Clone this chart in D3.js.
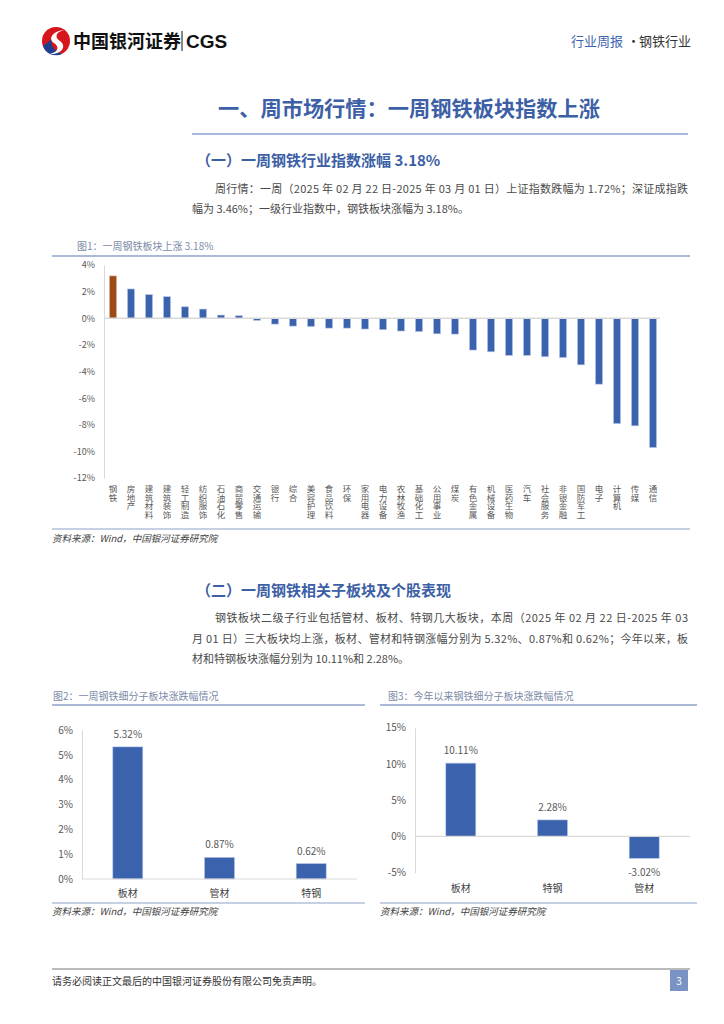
<!DOCTYPE html>
<html><head><meta charset="utf-8">
<script src="https://cdn.jsdelivr.net/npm/d3@7"></script>
<style>
body{margin:0;background:#fff;}
svg{display:block;font-family:"Noto Sans CJK SC","Noto Sans",sans-serif;}
.vlab{writing-mode:vertical-rl;text-orientation:upright;}
</style></head>
<body><svg id="page" width="724" height="1024"></svg>
<script>
// ---------- data ----------
const industryCategories = ["钢铁","房地产","建筑材料","建筑装饰","轻工制造","纺织服饰","石油石化","商贸零售","交通运输","银行","综合","美容护理","食品饮料","环保","家用电器","电力设备","农林牧渔","基础化工","公用事业","煤炭","有色金属","机械设备","医药生物","汽车","社会服务","非银金融","国防军工","电子","计算机","传媒","通信"];
const industryWeeklyChange = [3.18,2.20,1.77,1.62,0.86,0.69,0.24,0.19,-0.16,-0.44,-0.59,-0.62,-0.74,-0.74,-0.81,-0.86,-0.96,-1.00,-1.17,-1.19,-2.39,-2.52,-2.79,-2.79,-2.89,-2.95,-3.50,-4.95,-7.91,-8.08,-9.71];
const industryTicks = [4,2,0,-2,-4,-6,-8,-10,-12];

const weekSubCategories = ["板材","管材","特钢"];
const weekSubChange = [5.32,0.87,0.62];
const weekSubTicks = [0,1,2,3,4,5,6];

const ytdSubCategories = ["板材","特钢","管材"];
const ytdSubChange = [10.11,2.28,-3.02];
const ytdSubTicks = [15,10,5,0,-5];

// ---------- page ----------
const svg = d3.select("#page");
const BLUE = "#3b63ad", BROWN = "#9c4a16", GRAY = "#595959", TBLUE = "#3c5fa6", LINE = "#8ea2c9";
const serif = '"Noto Sans CJK SC",sans-serif';

// logo
const logo = svg.append("g").attr("transform","translate(56,41)");
logo.append("circle").attr("r",14).attr("fill","#d6161c");
logo.append("path").attr("d","M-13,5 A14,14 0 0 0 6,13 C-2,10 -6,4 -4,-2 Z").attr("fill","#1d3f8f");
logo.append("path").attr("d","M8,-11 C-4,-10 -8,-2 -2,2 C4,6 2,11 -6,13 C4,14 12,6 4,0 C-2,-4 0,-9 8,-11 Z").attr("fill","#fff");
svg.append("text").attr("x",73).attr("y",48).attr("font-size",18).attr("font-weight","bold").attr("fill","#111").text("中国银河证券");
svg.append("line").attr("x1",182).attr("x2",182).attr("y1",31).attr("y2",51).attr("stroke","#111").attr("stroke-width",1);
svg.append("text").attr("x",186).attr("y",48).attr("font-size",19).attr("font-weight","bold").attr("fill","#111").attr("font-family","Liberation Sans,Arial,sans-serif").text("CGS");
svg.append("text").attr("x",571).attr("y",46).attr("font-size",13).attr("fill","#3e64b0").text("行业周报");
svg.append("text").attr("x",627).attr("y",46).attr("font-size",13).attr("fill","#333").text("·");
svg.append("text").attr("x",639).attr("y",46).attr("font-size",13).attr("fill","#333").text("钢铁行业");

// section title
svg.append("text").attr("x",218).attr("y",116).attr("font-size",21).attr("font-weight","bold").attr("fill",TBLUE)
  .attr("textLength",382).attr("lengthAdjust","spacingAndGlyphs").text("一、周市场行情：一周钢铁板块指数上涨");
svg.append("line").attr("x1",192).attr("x2",688).attr("y1",134).attr("y2",134).attr("stroke","#4a73c0").attr("stroke-width",1.2);
svg.append("text").attr("x",196).attr("y",166).attr("font-size",15).attr("font-weight","bold").attr("fill",TBLUE).text("（一）一周钢铁行业指数涨幅 3.18%");

function para(x, y, txt, len){
  const t = svg.append("text").attr("x",x).attr("y",y).attr("font-size",11).attr("fill","#4a4a4a").text(txt);
  if(len) t.attr("textLength",len).attr("lengthAdjust","spacing");
}
para(215,193,"周行情：一周（2025 年 02 月 22 日-2025 年 03 月 01 日）上证指数跌幅为 1.72%；深证成指跌",473);
para(192,213,"幅为 3.46%；一级行业指数中，钢铁板块涨幅为 3.18%。");

// ---------- chart 1 ----------
svg.append("text").attr("x",77).attr("y",250).attr("font-size",10).attr("fill","#7b8aa6").text("图1：一周钢铁板块上涨 3.18%");
svg.append("line").attr("x1",52).attr("x2",690).attr("y1",256).attr("y2",256).attr("stroke",LINE).attr("stroke-width",1.5);

const x1 = d3.scaleBand().domain(industryCategories).range([104,662]).paddingInner(0.61).paddingOuter(0.305);
const y1 = d3.scaleLinear().domain([-12,4]).range([478,265]);
const ax1 = svg.append("g").attr("transform","translate(104,0)")
  .call(d3.axisLeft(y1).tickValues(industryTicks).tickSize(0).tickPadding(9).tickFormat(d=>d+"%"));
ax1.select(".domain").attr("stroke","#d9d9d9");
ax1.selectAll("text").attr("font-size",9).attr("fill",GRAY).attr("font-family",serif);
svg.append("g").selectAll("rect").data(industryWeeklyChange).join("rect")
  .attr("x",(d,i)=>x1(industryCategories[i]))
  .attr("width",x1.bandwidth())
  .attr("y",d=>y1(Math.max(0,d)))
  .attr("height",d=>Math.abs(y1(d)-y1(0)))
  .attr("fill",(d,i)=>i===0?BROWN:BLUE)
  .attr("stroke",(d,i)=>i===0?"#d9b8a5":"#b4c4e4").attr("stroke-width",0.6);
svg.append("line").attr("x1",104).attr("x2",660).attr("y1",y1(0)).attr("y2",y1(0)).attr("stroke","#d9d9d9").attr("stroke-width",1.5);
svg.append("g").selectAll("text").data(industryCategories).join("text")
  .attr("class","vlab")
  .attr("x",d=>x1(d)+x1.bandwidth()/2).attr("y",485)
  .attr("font-size",8.5).attr("fill",GRAY).text(d=>d);
svg.append("line").attr("x1",52).attr("x2",690).attr("y1",529).attr("y2",529).attr("stroke",LINE).attr("stroke-width",1.2);
svg.append("text").attr("x",52).attr("y",542).attr("font-size",9.5).attr("fill","#404040").attr("font-style","italic").text("资料来源：Wind，中国银河证券研究院");

// ---------- section 2 ----------
svg.append("text").attr("x",196).attr("y",596).attr("font-size",15).attr("font-weight","bold").attr("fill",TBLUE).text("（二）一周钢铁相关子板块及个股表现");
para(215,622,"钢铁板块二级子行业包括管材、板材、特钢几大板块，本周（2025 年 02 月 22 日-2025 年 03",473);
para(192,643,"月 01 日）三大板块均上涨，板材、管材和特钢涨幅分别为 5.32%、0.87%和 0.62%；今年以来，板",496);
para(192,663,"材和特钢板块涨幅分别为 10.11%和 2.28%。");

// ---------- chart 2 & 3 ----------
function subChart(cfg){
  svg.append("text").attr("x",cfg.tx).attr("y",700).attr("font-size",10).attr("fill","#7b8aa6").text(cfg.title);
  svg.append("line").attr("x1",cfg.l1).attr("x2",cfg.l2).attr("y1",705).attr("y2",705).attr("stroke",LINE).attr("stroke-width",1.5);
  const x = d3.scaleBand().domain(cfg.cats).range([cfg.x0,cfg.x0+275]).paddingInner(0.673).paddingOuter(0.336);
  const y = d3.scaleLinear().domain(cfg.dom).range(cfg.rng);
  const ax = svg.append("g").attr("transform",`translate(${cfg.x0},0)`)
    .call(d3.axisLeft(y).tickValues(cfg.ticks).tickSize(0).tickPadding(9).tickFormat(d=>d+"%"));
  ax.select(".domain").attr("stroke","#d9d9d9");
  ax.selectAll("text").attr("font-size",10).attr("fill",GRAY).attr("font-family",serif);
  svg.append("g").selectAll("rect").data(cfg.vals).join("rect")
    .attr("x",(d,i)=>x(cfg.cats[i])).attr("width",x.bandwidth())
    .attr("y",d=>y(Math.max(0,d))).attr("height",d=>Math.abs(y(d)-y(0)))
    .attr("fill",BLUE).attr("stroke","#b4c4e4").attr("stroke-width",0.6);
  svg.append("line").attr("x1",cfg.x0).attr("x2",cfg.x0+275).attr("y1",y(0)).attr("y2",y(0)).attr("stroke","#d9d9d9").attr("stroke-width",1.2);
  svg.append("g").selectAll("text").data(cfg.vals).join("text")
    .attr("x",(d,i)=>x(cfg.cats[i])+x.bandwidth()/2)
    .attr("y",d=>d>=0?y(d)-9:y(d)+18)
    .attr("text-anchor","middle").attr("font-size",10).attr("fill",GRAY).text(d=>d.toFixed(2)+"%");
  svg.append("g").selectAll("text").data(cfg.cats).join("text")
    .attr("x",d=>x(d)+x.bandwidth()/2).attr("y",cfg.catY)
    .attr("text-anchor","middle").attr("font-size",10).attr("fill","#404040").text(d=>d);
  svg.append("line").attr("x1",cfg.l1).attr("x2",cfg.l2).attr("y1",903).attr("y2",903).attr("stroke",LINE).attr("stroke-width",1.2);
  svg.append("text").attr("x",cfg.l1).attr("y",915).attr("font-size",9.5).attr("fill","#404040").attr("font-style","italic").text("资料来源：Wind，中国银河证券研究院");
}
subChart({title:"图2：一周钢铁细分子板块涨跌幅情况",tx:53,l1:52,l2:365,x0:82,cats:weekSubCategories,vals:weekSubChange,dom:[0,6],rng:[879,730],ticks:weekSubTicks,catY:897});
subChart({title:"图3：今年以来钢铁细分子板块涨跌幅情况",tx:388,l1:380,l2:697,x0:415,cats:ytdSubCategories,vals:ytdSubChange,dom:[-5,15],rng:[872.7,727.7],ticks:ytdSubTicks,catY:892});

// ---------- footer ----------
svg.append("line").attr("x1",52).attr("x2",690).attr("y1",969).attr("y2",969).attr("stroke","#777").attr("stroke-width",1);
svg.append("text").attr("x",52).attr("y",985).attr("font-size",10).attr("fill","#333").text("请务必阅读正文最后的中国银河证券股份有限公司免责声明。");
svg.append("rect").attr("x",670).attr("y",970).attr("width",18).attr("height",21).attr("fill","#7b93c4");
svg.append("text").attr("x",679).attr("y",985).attr("text-anchor","middle").attr("font-size",10).attr("fill","#fff").text("3");
</script></body></html>
